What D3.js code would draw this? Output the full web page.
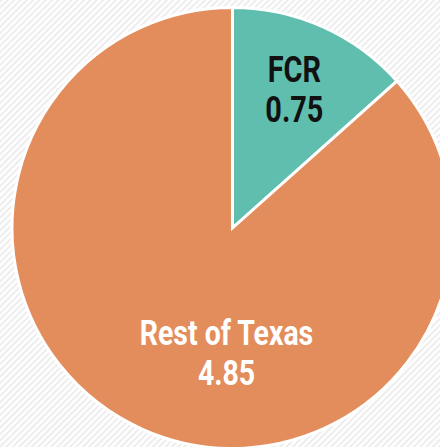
<!DOCTYPE html>
<html>
<head>
<meta charset="utf-8">
<script src="https://cdn.jsdelivr.net/npm/d3@7"></script>
<style>
html,body{margin:0;padding:0;background:#fff;}
svg{display:block;}
</style>
</head>
<body>
<svg id="chart" width="440" height="447"></svg>
<script>
const categories = ["FCR", "Rest of Texas"];
const values = [0.75, 4.85];
const valueLabels = ["0.75", "4.85"];
const colors = ["#5FBEAD", "#E48D5C"];

const W = 440, H = 447;
const cx = 232.5, cy = 228, R = 222;
const svg = d3.select("#chart");

const defs = svg.append("defs");
const pat = defs.append("pattern")
  .attr("id", "stripes")
  .attr("patternUnits", "userSpaceOnUse")
  .attr("width", 4.5).attr("height", 4.5)
  .attr("patternTransform", "rotate(45)");
pat.append("rect").attr("width", 4.5).attr("height", 4.5).attr("fill", "#ffffff");
pat.append("rect").attr("width", 2).attr("height", 4.5).attr("fill", "#ededed");

svg.append("rect").attr("width", W).attr("height", H).attr("fill", "url(#stripes)");

const data = categories.map((c, i) => ({ name: c, value: values[i], label: valueLabels[i], color: colors[i] }));
const pie = d3.pie().sort(null).value(d => d.value);
const arcs = pie(data);
const arc = d3.arc().innerRadius(0).outerRadius(R - 1.5);

const g = svg.append("g").attr("transform", `translate(${cx},${cy})`);
g.selectAll("path").data(arcs).join("path")
  .attr("d", arc)
  .attr("fill", d => d.data.color)
  .attr("stroke", "#ffffff")
  .attr("stroke-width", 3)
  .attr("stroke-linejoin", "miter");

// label positions
const labelArc = d3.arc().innerRadius(R * 0.682).outerRadius(R * 0.682);
function labelPos(d, i) {
  if (i === 0) return labelArc.centroid(d);
  return [-6, R * 0.562];
}
const textColors = ["#111111", "#ffffff"];
const fontSizes = [37, 36];
const lineGap = [40, 40];
const sx = [0.78, 0.79];

arcs.forEach((d, i) => {
  const [x, y] = labelPos(d, i);
  const t = g.append("g").attr("transform", `translate(${x},${y}) scale(${sx[i]},1)`);
  const txt = t.append("text")
    .attr("text-anchor", "middle")
    .attr("font-family", "Roboto, 'Liberation Sans', sans-serif")
    .attr("font-weight", "bold")
    .attr("font-size", fontSizes[i])
    .attr("fill", textColors[i]);
  txt.append("tspan").attr("x", 0).attr("y", -lineGap[i] / 2 + 12.3).text(d.data.name);
  txt.append("tspan").attr("x", 0).attr("y", lineGap[i] / 2 + 12.3).text(d.data.label);
});
</script>
</body>
</html>
